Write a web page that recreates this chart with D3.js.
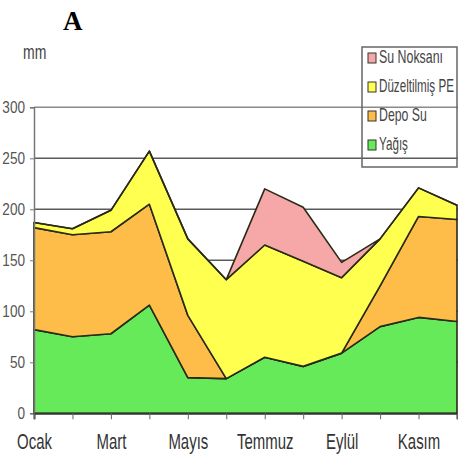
<!DOCTYPE html>
<html>
<head>
<meta charset="utf-8">
<script src="https://cdn.jsdelivr.net/npm/d3@7"></script>
<style>
  body { margin: 0; background: #fff; }
  svg { display: block; font-family: "Liberation Sans", Arial, sans-serif; }
</style>
</head>
<body>
<div class="chart"></div>
<script>
var months = ["Ocak", "Şubat", "Mart", "Nisan", "Mayıs", "Haziran", "Temmuz", "Ağustos", "Eylül", "Ekim", "Kasım", "Aralık"];
var yagis = [82, 75, 78, 106, 35, 34, 55, 46, 59, 85, 94, 90];
var depoSu = [100, 100, 100, 99, 61, 0, 0, 0, 0, 40, 99, 100];
var duzeltilmisPE = [5, 6, 21, 52, 75, 97, 110, 103, 74, 46, 28, 14];
var suNoksani = [0, 0, 0, 0, 0, 0, 55, 53, 15, 0, 0, 0];
var yTicks = [0, 50, 100, 150, 200, 250, 300];

var keys = ["Yağış", "Depo Su", "Düzeltilmiş PE", "Su Noksanı"];
var colors = { "Yağış": "#66ea5a", "Depo Su": "#fdbd48", "Düzeltilmiş PE": "#ffff4f", "Su Noksanı": "#f6a7a7" };
var legendOrder = ["Su Noksanı", "Düzeltilmiş PE", "Depo Su", "Yağış"];
var legendWidths = { "Su Noksanı": 64, "Düzeltilmiş PE": 75, "Depo Su": 48, "Yağış": 29 };

var W = 458, H = 469;
var svg = d3.select(".chart").append("svg").attr("width", W).attr("height", H);

var xScale = d3.scalePoint().domain(months).range([34, 457]);
var yScale = d3.scaleLinear().domain([0, 300]).range([413.3, 107.3]);

// squeeze text horizontally (the original font is very narrow)
function squeeze(sel, f) {
  sel.each(function () {
    var t = d3.select(this);
    var k = typeof f === "function" ? f.call(this, t.datum()) : f;
    var x = +t.attr("x") || 0;
    t.attr("x", x / k).attr("transform", (t.attr("transform") || "") + " scale(" + k + ",1)");
  });
}

var table = months.map(function (m, i) {
  return { month: m, "Yağış": yagis[i], "Depo Su": depoSu[i], "Düzeltilmiş PE": duzeltilmisPE[i], "Su Noksanı": suNoksani[i] };
});
var series = d3.stack().keys(keys)(table);

// grid
svg.append("g")
  .selectAll("line")
  .data(yTicks.filter(function (d) { return d > 0; }))
  .enter().append("line")
  .attr("x1", 34).attr("x2", W)
  .attr("y1", function (d) { return yScale(d); })
  .attr("y2", function (d) { return yScale(d); })
  .attr("stroke", function (d) { return d === 300 ? "#8a8a8a" : "#5a5a5a"; })
  .attr("stroke-width", 1.5);

var area = d3.area()
  .x(function (d) { return xScale(d.data.month); })
  .y0(function (d) { return yScale(d[0]); })
  .y1(function (d) { return yScale(d[1]); });

svg.append("g")
  .selectAll("path")
  .data(series)
  .enter().append("path")
  .attr("d", area)
  .attr("fill", function (d) { return colors[d.key]; })
  .attr("stroke", "#2a2a1a")
  .attr("stroke-width", 1.6)
  .attr("stroke-linejoin", "round");

// y axis
var yAxis = svg.append("g")
  .attr("transform", "translate(34,0)")
  .call(d3.axisLeft(yScale).tickValues(yTicks).tickSize(4).tickPadding(5));
yAxis.select(".domain").attr("stroke", "#777").attr("stroke-width", 1.5);
yAxis.selectAll(".tick line").attr("stroke", "#777");
yAxis.selectAll("text")
  .attr("font-size", 17)
  .attr("font-family", "Liberation Sans, Arial, sans-serif")
  .attr("fill", "#555")
  .call(squeeze, 0.8);

// x axis
var xAxis = svg.append("g")
  .attr("transform", "translate(0,413.3)")
  .call(d3.axisBottom(xScale).tickSizeOuter(0).tickSize(6)
    .tickFormat(function (d, i) { return i % 2 === 0 ? d : ""; }));
xAxis.select(".domain").attr("stroke", "#333").attr("stroke-width", 2);
xAxis.selectAll(".tick line").attr("stroke", "#666");
xAxis.selectAll("text")
  .attr("font-size", 22)
  .attr("font-family", "Liberation Sans, Arial, sans-serif")
  .attr("fill", "#333")
  .attr("y", 0).attr("dy", 0)
  .attr("transform", "translate(0,36)")
  .call(squeeze, 0.68);

// unit label
svg.append("text")
  .attr("x", 23).attr("y", 59)
  .attr("font-size", 20)
  .attr("fill", "#444")
  .text("mm")
  .call(squeeze, 0.7);

// panel letter
svg.append("text")
  .attr("x", 63).attr("y", 30)
  .attr("font-family", "Liberation Serif, Times New Roman, serif")
  .attr("font-weight", "bold")
  .attr("font-size", 27)
  .attr("fill", "#000")
  .text("A");

// legend
var legend = svg.append("g");
legend.append("rect")
  .attr("x", 362).attr("y", 47).attr("width", 95).attr("height", 120)
  .attr("fill", "none").attr("stroke", "#666").attr("stroke-width", 1.5);

var item = legend.selectAll(".item")
  .data(legendOrder)
  .enter().append("g")
  .attr("class", "item")
  .attr("transform", function (d, i) { return "translate(0," + (63 + i * 29) + ")"; });

item.append("rect")
  .attr("x", 368).attr("y", -10).attr("width", 8).attr("height", 10)
  .attr("fill", function (d) { return colors[d]; })
  .attr("stroke", "#333").attr("stroke-width", 1);

item.append("text")
  .attr("x", 379).attr("y", 0)
  .attr("font-size", 18)
  .attr("fill", "#444")
  .text(function (d) { return d; })
  .call(squeeze, function (d) { return legendWidths[d] / this.getComputedTextLength(); });
</script>
</body>
</html>
